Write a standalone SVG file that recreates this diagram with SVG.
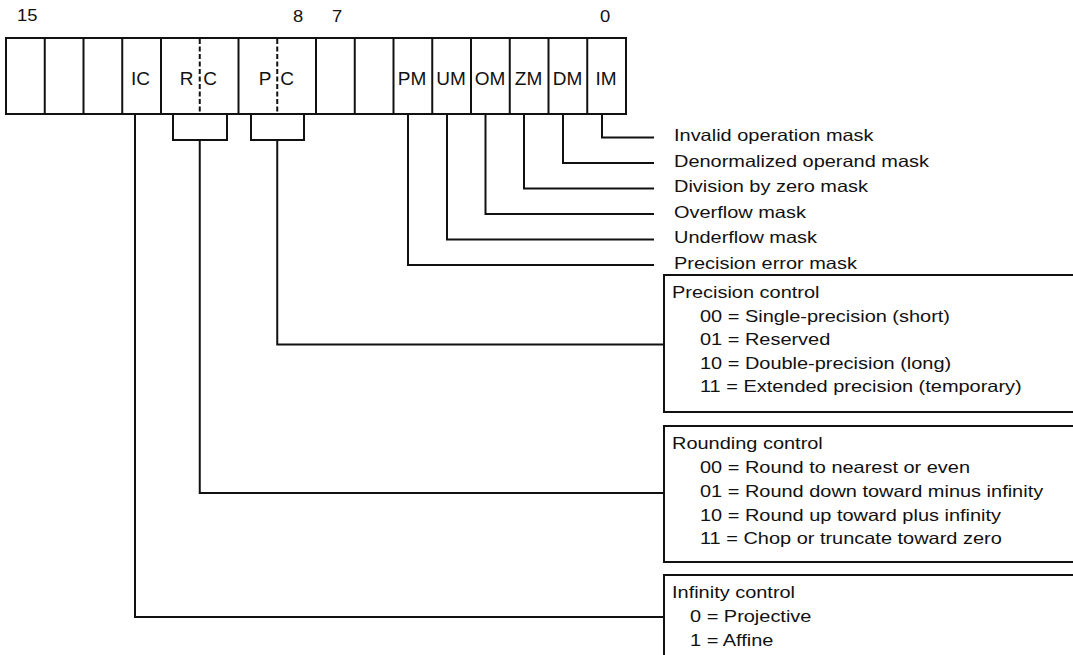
<svg xmlns="http://www.w3.org/2000/svg" width="1073" height="655" viewBox="0 0 1073 655">
  <style>
    .ln { fill: none; stroke: #111; stroke-width: 2; stroke-linecap: square; }
    .dash { fill: none; stroke: #111; stroke-width: 2; stroke-dasharray: 5 2.5; }
    .cell { font-family: "Liberation Sans", Arial, sans-serif; font-size: 19px; fill: #111; text-anchor: middle; }
    .num { font-family: "Liberation Sans", Arial, sans-serif; font-size: 16px; fill: #111; }
    .txt { font-family: "Liberation Sans", Arial, sans-serif; font-size: 16.5px; fill: #111; }
  </style>
  <rect width="1073" height="655" fill="#fff"/>

  <!-- bit numbers -->
  <g id="bit-numbers">
    <text class="num" transform="translate(17,21) scale(1.15,1)">15</text>
    <text class="num" transform="translate(293,22) scale(1.15,1)">8</text>
    <text class="num" transform="translate(332,22) scale(1.15,1)">7</text>
    <text class="num" transform="translate(600,22) scale(1.15,1)">0</text>
  </g>

  <!-- 16-bit control word register -->
  <g id="register">
    <rect class="ln" x="6" y="38" width="620" height="76"/>
    <path class="ln" d="M44.75,38V114 M83.5,38V114 M122.25,38V114 M161,38V114 M238.5,38V114 M316,38V114 M354.75,38V114 M393.5,38V114 M432.25,38V114 M471,38V114 M509.75,38V114 M548.5,38V114 M587.25,38V114"/>
    <path class="dash" d="M199.75,39V113 M277.25,39V113"/>
    <text class="cell" x="140.5" y="85">IC</text>
    <text class="cell" x="186.5" y="85">R</text>
    <text class="cell" x="210" y="85">C</text>
    <text class="cell" x="265" y="85">P</text>
    <text class="cell" x="287" y="85">C</text>
    <text class="cell" x="412" y="85">PM</text>
    <text class="cell" x="451" y="85">UM</text>
    <text class="cell" x="490" y="85">OM</text>
    <text class="cell" x="528.5" y="85">ZM</text>
    <text class="cell" x="567.5" y="85">DM</text>
    <text class="cell" x="606" y="85">IM</text>
  </g>

  <!-- connectors from the register fields -->
  <g id="connectors">
    <path class="ln" d="M602,114V137.5H653"/>
    <path class="ln" d="M563,114V163H653"/>
    <path class="ln" d="M524,114V188.5H653"/>
    <path class="ln" d="M485.5,114V214H653"/>
    <path class="ln" d="M447,114V239.5H653"/>
    <path class="ln" d="M408,114V265H653"/>
    <path class="ln" d="M251,114V140H304V114 M277.25,140V344.5H664"/>
    <path class="ln" d="M173,114V140H227V114 M199.75,140V493H664"/>
    <path class="ln" d="M135,114V617H664"/>
  </g>

  <!-- exception mask labels -->
  <g id="mask-labels">
    <text class="txt" transform="translate(674,141) scale(1.21,1)">Invalid operation mask</text>
    <text class="txt" transform="translate(674,166.5) scale(1.21,1)">Denormalized operand mask</text>
    <text class="txt" transform="translate(674,192) scale(1.21,1)">Division by zero mask</text>
    <text class="txt" transform="translate(674,217.5) scale(1.21,1)">Overflow mask</text>
    <text class="txt" transform="translate(674,243) scale(1.21,1)">Underflow mask</text>
    <text class="txt" transform="translate(674,268.5) scale(1.21,1)">Precision error mask</text>
  </g>

  <!-- precision control -->
  <g id="precision-control">
    <rect class="ln" x="664" y="275" width="430" height="137"/>
    <text class="txt" transform="translate(672,298) scale(1.21,1)">Precision control</text>
    <text class="txt" transform="translate(700,321.5) scale(1.21,1)">00 = Single-precision (short)</text>
    <text class="txt" transform="translate(700,345) scale(1.21,1)">01 = Reserved</text>
    <text class="txt" transform="translate(700,368.5) scale(1.21,1)">10 = Double-precision (long)</text>
    <text class="txt" transform="translate(700,392) scale(1.21,1)">11 = Extended precision (temporary)</text>
  </g>

  <!-- rounding control -->
  <g id="rounding-control">
    <rect class="ln" x="664" y="426" width="430" height="136"/>
    <text class="txt" transform="translate(672,449) scale(1.21,1)">Rounding control</text>
    <text class="txt" transform="translate(700,473) scale(1.21,1)">00 = Round to nearest or even</text>
    <text class="txt" transform="translate(700,497) scale(1.21,1)">01 = Round down toward minus infinity</text>
    <text class="txt" transform="translate(700,520.5) scale(1.21,1)">10 = Round up toward plus infinity</text>
    <text class="txt" transform="translate(700,544) scale(1.21,1)">11 = Chop or truncate toward zero</text>
  </g>

  <!-- infinity control -->
  <g id="infinity-control">
    <path class="ln" d="M1090,575H664V665"/>
    <text class="txt" transform="translate(672,598) scale(1.21,1)">Infinity control</text>
    <text class="txt" transform="translate(690,622) scale(1.21,1)">0 = Projective</text>
    <text class="txt" transform="translate(690,646) scale(1.21,1)">1 = Affine</text>
  </g>
</svg>
